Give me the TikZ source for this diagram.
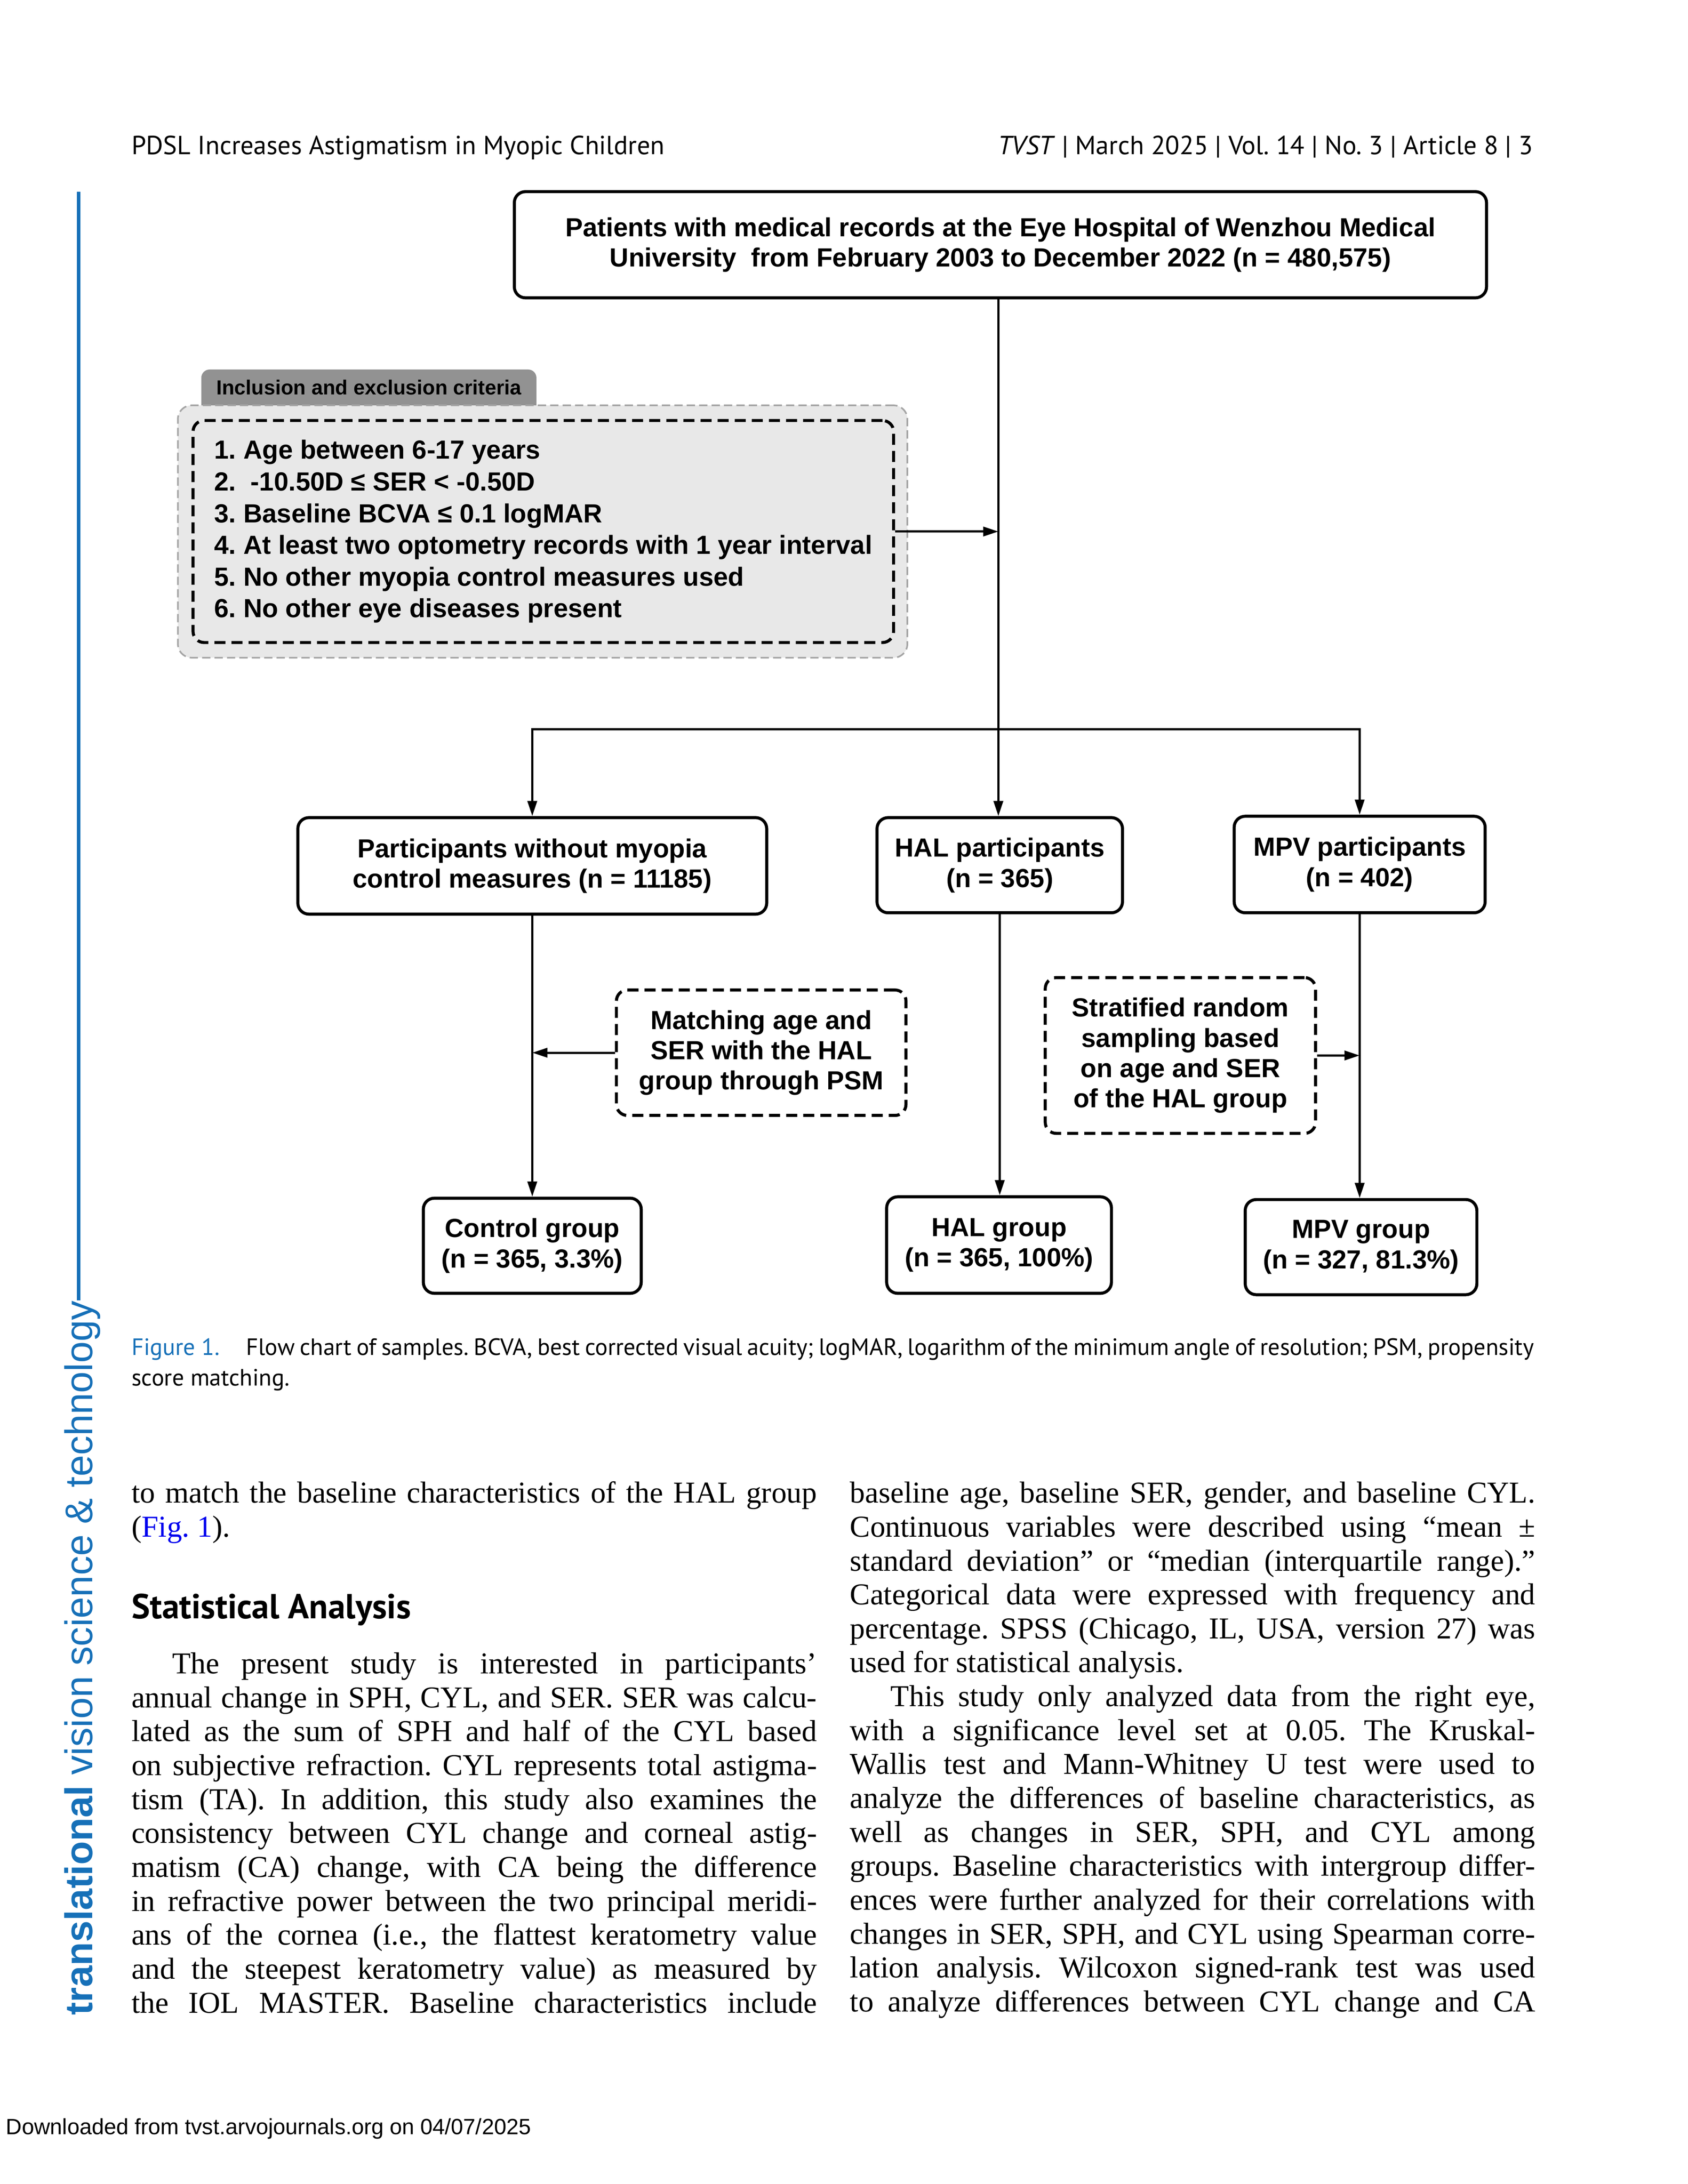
\documentclass[tikz,border=0pt]{standalone}
\usepackage{fontspec}
\setmainfont{Liberation Serif}
\newfontfamily\chartfont{Liberation Sans}
\newfontfamily\journalfont{PT Sans}
\usetikzlibrary{arrows.meta}

\definecolor{tvstblue}{RGB}{22,112,184}
\definecolor{linkblue}{RGB}{0,0,238}
\definecolor{tabgray}{RGB}{146,146,146}
\definecolor{critfill}{RGB}{232,232,232}
\definecolor{critedge}{RGB}{165,165,165}

\newcommand{\jl}[1]{\makebox[248.5bp][s]{#1}}

\tikzset{
  box/.style={draw, line width=1.1bp, rounded corners=4bp, fill=white, align=center, inner sep=0pt,
    font=\chartfont\bfseries\fontsize{9.5bp}{11bp}\selectfont},
  dashbox/.style={box, dash pattern=on 4bp off 2.2bp},
  link/.style={line width=0.8bp},
  arr/.style={link, -{Triangle[length=5.5bp,width=3.4bp]}},
  bodyline/.style={anchor=base west, inner sep=0pt, font=\fontsize{11bp}{12.3bp}\selectfont},
  pagetext/.style={anchor=base west, inner sep=0pt, font=\journalfont\fontsize{9.5bp}{11bp}\selectfont},
  captext/.style={pagetext, font=\journalfont\fontsize{8.55bp}{10bp}\selectfont},
}

\begin{document}
\frenchspacing
\begin{tikzpicture}[x=0.5bp, y=-0.5bp]

\fill[white] (0,0) rectangle (1224,1584);
\useasboundingbox (0,0) rectangle (1224,1584);

% running head
\node[pagetext] (runhead) at (95,112) {PDSL Increases Astigmatism in Myopic Children};
\node[pagetext, anchor=base east] (pageinfo) at (1112,112) {\textit{TVST} | March 2025 | Vol.~14 | No.~3 | Article 8 | 3};

% journal name on the left
\node[rotate=90, anchor=base west, inner sep=0pt, text=tvstblue,
  font=\chartfont\fontsize{14bp}{14bp}\selectfont] (journal) at (67,1462) {\textbf{translational} vision science \& technology};
\coordinate (bartop) at (57,139);
\draw[tvstblue, line width=1.3bp] (bartop) -- (bartop |- journal.east);

% flow chart
\node[box, minimum width=352.5bp, minimum height=38.5bp] (src) at (725.5,177.5)
  {Patients with medical records at the Eye Hospital of Wenzhou Medical\\University\ \ from February 2003 to December 2022 (n = 480,575)};

\fill[tabgray, rounded corners=3bp] (146,300) |- (389,268) -- (389,300);
\node[inner sep=0pt, font=\chartfont\bfseries\fontsize{7.4bp}{9bp}\selectfont] (tab) at (267.5,281) {Inclusion and exclusion criteria};
\node[draw=critedge, fill=critfill, line width=0.6bp, dash pattern=on 3bp off 1.5bp, rounded corners=5bp,
  minimum width=264.5bp, minimum height=91.5bp] (critout) at (393.5,385.5) {};
\node[dashbox, fill=none, align=left, minimum width=254bp, minimum height=80.5bp,
  font=\chartfont\bfseries\fontsize{9.5bp}{11.5bp}\selectfont] (critin) at (394,385.5)
  {1. Age between 6-17 years\\2.\ \ -10.50D ≤ SER < -0.50D\\3. Baseline BCVA ≤ 0.1 logMAR\\4. At least two optometry records with 1 year interval\\5. No other myopia control measures used\\6. No other eye diseases present};

\node[box, minimum width=170bp, minimum height=35bp] (noctl) at (386,628) {Participants without myopia\\control measures (n = 11185)};
\node[box, minimum width=89bp, minimum height=34.5bp] (halp) at (725,627.5) {HAL participants\\(n = 365)};
\node[box, minimum width=91bp, minimum height=35bp] (mpvp) at (986,627) {MPV participants\\(n = 402)};

\node[dashbox, minimum width=105bp, minimum height=45.5bp] (psm) at (552,763.5) {Matching age and\\SER with the HAL\\group through PSM};
\node[dashbox, minimum width=98bp, minimum height=56.5bp] (strat) at (856,765.5) {Stratified random\\sampling based\\on age and SER\\of the HAL group};

\node[box, minimum width=79bp, minimum height=34.5bp] (ctl) at (386,903.5) {Control group\\(n = 365, 3.3\%)};
\node[box, minimum width=81.5bp, minimum height=35bp] (halg) at (724.5,903) {HAL group\\(n = 365, 100\%)};
\node[box, minimum width=84bp, minimum height=34.5bp] (mpvg) at (987,904.5) {MPV group\\(n = 327, 81.3\%)};

\coordinate (split) at (724,529);
\draw[link] (split |- src.south) -- (split);
\draw[arr] (critin.east) -- (critin.east -| split);
\draw[arr] (split) -| (noctl.north);
\draw[arr] (split) -| (mpvp.north);
\draw[arr] (split) -- (split |- halp.north);

\draw[arr] (noctl.south) -- (noctl.south |- ctl.north);
\draw[arr] (halp.south) -- (halp.south |- halg.north);
\draw[arr] (mpvp.south) -- (mpvp.south |- mpvg.north);
\draw[arr] (psm.west) -- (psm.west -| noctl.south);
\draw[arr] (strat.east) -- (strat.east -| mpvp.south);

% caption
\node[captext, text=tvstblue] (figlabel) at (95,983) {Figure 1.};
\node[captext] (caption) at (178,983)
  {\makebox[467bp][s]{Flow chart of samples. BCVA, best corrected visual acuity; logMAR, logarithm of the minimum angle of resolution; PSM, propensity}};
\node[captext] (captail) at (95,1005) {score matching.};

% left column
\node[bodyline] (lc1) at (95,1090) {\jl{to match the baseline characteristics of the HAL group}};
\node[bodyline] (lc2) at (95,1114.6) {(\textcolor{linkblue}{Fig.~1}).};
\node[pagetext, font=\journalfont\bfseries\fontsize{12.6bp}{14bp}\selectfont] (heading) at (95,1174) {Statistical Analysis};
\node[bodyline] (sa0) at (124.5,1213.8) {\makebox[233.75bp][s]{The present study is interested in participants’}};
\foreach \row [count=\k] in {
  {annual change in SPH, CYL, and SER. SER was calcu-},
  {lated as the sum of SPH and half of the CYL based},
  {on subjective refraction. CYL represents total astigma-},
  {tism (TA). In addition, this study also examines the},
  {consistency between CYL change and corneal astig-},
  {matism (CA) change, with CA being the difference},
  {in refractive power between the two principal meridi-},
  {ans of the cornea (i.e., the flattest keratometry value},
  {and the steepest keratometry value) as measured by},
  {the IOL MASTER. Baseline characteristics include}}
  \node[bodyline] (sa\k) at (95,{1213.8+\k*24.6}) {\jl{\row}};

% right column
\foreach \row [count=\k from 0] in {
  {baseline age, baseline SER, gender, and baseline CYL.},
  {Continuous variables were described using “mean ±},
  {standard deviation” or “median (interquartile range).”},
  {Categorical data were expressed with frequency and},
  {percentage. SPSS (Chicago, IL, USA, version 27) was}}
  \node[bodyline] (rc\k) at (616,{1090+\k*24.6}) {\jl{\row}};
\node[bodyline] (rc5) at (616,{1090+5*24.6}) {used for statistical analysis.};
\node[bodyline] (rc6) at (645.5,{1090+6*24.6}) {\makebox[233.75bp][s]{This study only analyzed data from the right eye,}};
\foreach \row [count=\k from 7] in {
  {with a significance level set at 0.05. The Kruskal-},
  {Wallis test and Mann-Whitney U test were used to},
  {analyze the differences of baseline characteristics, as},
  {well as changes in SER, SPH, and CYL among},
  {groups. Baseline characteristics with intergroup differ-},
  {ences were further analyzed for their correlations with},
  {changes in SER, SPH, and CYL using Spearman corre-},
  {lation analysis. Wilcoxon signed-rank test was used},
  {to analyze differences between CYL change and CA}}
  \node[bodyline] (rc\k) at (616,{1090+\k*24.6}) {\jl{\row}};

% footer
\node[anchor=base west, inner sep=0pt, font=\chartfont\fontsize{8bp}{9bp}\selectfont] (footer) at (4,1548) {Downloaded from tvst.arvojournals.org on 04/07/2025};

\end{tikzpicture}
\end{document}
